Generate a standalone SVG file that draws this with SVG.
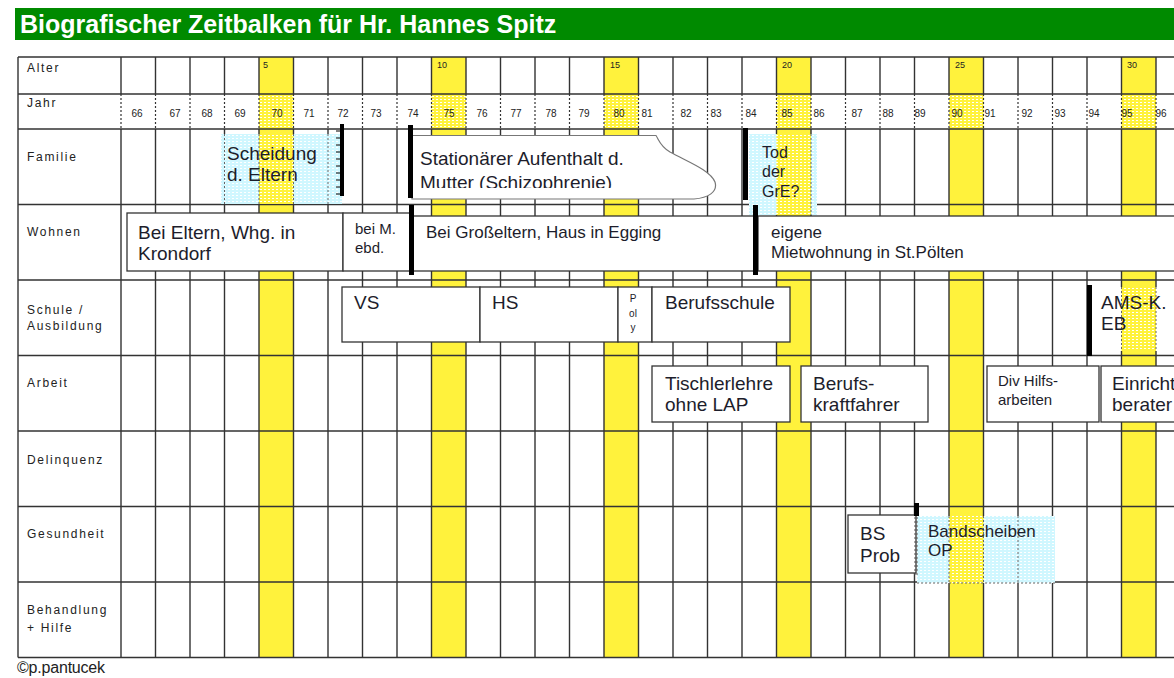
<svg xmlns="http://www.w3.org/2000/svg" width="1174" height="678" viewBox="0 0 1174 678">
<style>
.lbl{font-family:"Liberation Sans",Arial,sans-serif;font-size:12px;letter-spacing:1.7px;fill:#222}
.yr{font-family:"Liberation Sans",Arial,sans-serif;font-size:10px;fill:#222;text-anchor:middle}
.age{font-family:"Liberation Sans",Arial,sans-serif;font-size:9px;fill:#222}
.t19{font-family:"Liberation Sans",Arial,sans-serif;font-size:19px;fill:#1d1d2b}
.t17{font-family:"Liberation Sans",Arial,sans-serif;font-size:17px;fill:#1d1d2b}
.t16{font-family:"Liberation Sans",Arial,sans-serif;font-size:16px;fill:#1d1d2b}
.t15{font-family:"Liberation Sans",Arial,sans-serif;font-size:15px;fill:#1d1d2b}
.t10{font-family:"Liberation Sans",Arial,sans-serif;font-size:10px;fill:#1d1d2b;text-anchor:middle}
.box{fill:#fff;stroke:#333;stroke-width:1.3}
.grid{stroke:#333;stroke-width:1.4;fill:none}
.dot{stroke:#333;stroke-width:1.2;stroke-dasharray:2 2;fill:none}
.dotl{stroke:#666;stroke-width:1;stroke-dasharray:2 2;fill:none}
.bar{fill:#000}
.yel{fill:#fff23c}
</style>
<defs>
<pattern id="hc" patternUnits="userSpaceOnUse" width="4" height="3"><rect width="4" height="3" fill="#d0f7ff"/><rect width="2" height="1" fill="#fff"/></pattern>
<pattern id="hy" patternUnits="userSpaceOnUse" width="4" height="3"><rect width="4" height="3" fill="#fff23c"/><rect width="2" height="1" fill="#fff"/></pattern>
<clipPath id="clipStat"><rect x="412" y="136" width="310" height="52"/></clipPath>
</defs>
<rect width="1174" height="678" fill="#fff"/>

<g id="title">
<rect x="15" y="8" width="1159" height="32" fill="#008a00"/>
<text x="20" y="33" font-family="Liberation Sans,Arial,sans-serif" font-size="25" font-weight="bold" fill="#fff">Biografischer Zeitbalken für Hr. Hannes Spitz</text>
</g>

<g id="yellow-columns">
<rect class="yel" x="259" y="57" width="34.5" height="37"/><rect x="259" y="94" width="34.5" height="35" fill="url(#hy)"/><rect class="yel" x="259" y="129" width="34.5" height="528.5"/>
<rect class="yel" x="431.5" y="57" width="34.5" height="37"/><rect x="431.5" y="94" width="34.5" height="35" fill="url(#hy)"/><rect class="yel" x="431.5" y="129" width="34.5" height="528.5"/>
<rect class="yel" x="604" y="57" width="34.5" height="37"/><rect x="604" y="94" width="34.5" height="35" fill="url(#hy)"/><rect class="yel" x="604" y="129" width="34.5" height="528.5"/>
<rect class="yel" x="776.5" y="57" width="34.5" height="37"/><rect x="776.5" y="94" width="34.5" height="35" fill="url(#hy)"/><rect class="yel" x="776.5" y="129" width="34.5" height="528.5"/>
<rect class="yel" x="949" y="57" width="34.5" height="37"/><rect x="949" y="94" width="34.5" height="35" fill="url(#hy)"/><rect class="yel" x="949" y="129" width="34.5" height="528.5"/>
<rect class="yel" x="1121.5" y="57" width="34.5" height="37"/><rect x="1121.5" y="94" width="34.5" height="35" fill="url(#hy)"/><rect class="yel" x="1121.5" y="129" width="34.5" height="528.5"/>
</g>

<g id="grid">
<path class="grid" d="M18,57V657.5M121,57V94M121,129V657.5M155.5,57V94M155.5,129V657.5M190,57V94M190,129V657.5M224.5,57V94M224.5,129V657.5M259,57V94M259,129V657.5M293.5,57V94M293.5,129V657.5M328,57V94M328,129V657.5M362.5,57V94M362.5,129V657.5M397,57V94M397,129V657.5M431.5,57V94M431.5,129V657.5M466,57V94M466,129V657.5M500.5,57V94M500.5,129V657.5M535,57V94M535,129V657.5M569.5,57V94M569.5,129V657.5M604,57V94M604,129V657.5M638.5,57V94M638.5,129V657.5M673,57V94M673,129V657.5M707.5,57V94M707.5,129V657.5M742,57V94M742,129V657.5M776.5,57V94M776.5,129V657.5M811,57V94M811,129V657.5M845.5,57V94M845.5,129V657.5M880,57V94M880,129V657.5M914.5,57V94M914.5,129V657.5M949,57V94M949,129V657.5M983.5,57V94M983.5,129V657.5M1018,57V94M1018,129V657.5M1052.5,57V94M1052.5,129V657.5M1087,57V94M1087,129V657.5M1121.5,57V94M1121.5,129V657.5M1156,57V94M1156,129V657.5"/>
<path class="dot" d="M121,94V129M155.5,94V129M190,94V129M224.5,94V129M259,94V129M293.5,94V129M328,94V129M362.5,94V129M397,94V129M431.5,94V129M466,94V129M500.5,94V129M535,94V129M569.5,94V129M604,94V129M638.5,94V129M673,94V129M707.5,94V129M742,94V129M776.5,94V129M811,94V129M845.5,94V129M880,94V129M914.5,94V129M949,94V129M983.5,94V129M1018,94V129M1052.5,94V129M1087,94V129M1121.5,94V129M1156,94V129"/>
<path class="grid" d="M18,94H1174M18,129H1174M18,204.5H1174M18,280H1174M18,355.5H1174M18,431H1174M18,506.5H1174M18,582H1174"/>
<path class="grid" stroke-width="2" d="M18,57H1174M18,657.5H1174"/>
</g>

<g id="row-labels">
<text class="lbl" x="27" y="72">Alter</text>
<text class="lbl" x="27" y="107">Jahr</text>
<text class="lbl" x="27" y="161">Familie</text>
<text class="lbl" x="27" y="236">Wohnen</text>
<text class="lbl" x="27" y="314">Schule /</text>
<text class="lbl" x="27" y="330">Ausbildung</text>
<text class="lbl" x="27" y="387">Arbeit</text>
<text class="lbl" x="27" y="464">Delinquenz</text>
<text class="lbl" x="27" y="538">Gesundheit</text>
<text class="lbl" x="27" y="614">Behandlung</text>
<text class="lbl" x="27" y="632">+ Hilfe</text>
</g>

<g id="ages">
<text class="age" x="263" y="68">5</text>
<text class="age" x="437" y="68">10</text>
<text class="age" x="610" y="68">15</text>
<text class="age" x="782" y="68">20</text>
<text class="age" x="955" y="68">25</text>
<text class="age" x="1127" y="68">30</text>
</g>

<g id="years">
<text class="yr" x="137" y="117">66</text><text class="yr" x="175" y="117">67</text><text class="yr" x="207" y="117">68</text><text class="yr" x="240" y="117">69</text><text class="yr" x="277" y="117">70</text><text class="yr" x="309" y="117">71</text><text class="yr" x="343" y="117">72</text><text class="yr" x="376" y="117">73</text><text class="yr" x="413" y="117">74</text><text class="yr" x="449" y="117">75</text><text class="yr" x="482" y="117">76</text><text class="yr" x="516" y="117">77</text><text class="yr" x="551" y="117">78</text><text class="yr" x="584" y="117">79</text><text class="yr" x="619" y="117">80</text><text class="yr" x="647" y="117">81</text><text class="yr" x="686" y="117">82</text><text class="yr" x="716" y="117">83</text><text class="yr" x="751" y="117">84</text><text class="yr" x="787" y="117">85</text><text class="yr" x="819" y="117">86</text><text class="yr" x="857" y="117">87</text><text class="yr" x="888" y="117">88</text><text class="yr" x="920" y="117">89</text><text class="yr" x="957" y="117">90</text><text class="yr" x="990" y="117">91</text><text class="yr" x="1027" y="117">92</text><text class="yr" x="1060" y="117">93</text><text class="yr" x="1094" y="117">94</text><text class="yr" x="1127" y="117">95</text><text class="yr" x="1161" y="117">96</text>
</g>

<g id="familie-scheidung">
<rect x="221" y="134" width="121" height="70" fill="url(#hc)"/>
<rect x="259" y="134" width="34.5" height="70" fill="url(#hy)"/>
<path class="dotl" d="M224.5,134V204M259,134V204M293.5,134V204M328,134V204"/>
<text class="t19" x="227" y="160">Scheidung</text>
<text class="t19" x="227" y="181">d. Eltern</text>
<rect class="bar" x="340" y="124" width="4" height="72"/>
<path stroke="#000" stroke-width="1" d="M336,131H340M336,138H340M336,145H340M336,152H340M336,159H340M336,166H340M336,173H340M336,180H340M336,187H340M336,194H340"/>
</g>

<g id="familie-stationaer">
<path fill="#fff" stroke="#777" stroke-width="1.2" d="M412,135.5H656C659,140 660,146 670,152C688,162 710,170 715,182C718,192 708,198 694,199H412Z"/>
<text class="t19" x="420" y="165">Stationärer Aufenthalt d.</text>
<text class="t19" x="420" y="189" clip-path="url(#clipStat)">Mutter (Schizophrenie)</text>
<rect class="bar" x="408" y="125" width="5" height="73"/>
</g>

<g id="familie-tod">
<rect x="749" y="134" width="68" height="81" fill="url(#hc)"/>
<rect x="776.5" y="134" width="34.5" height="81" fill="url(#hy)"/>
<path class="dotl" d="M811,134V215"/>
<text class="t16" x="762" y="158">Tod</text>
<text class="t16" x="762" y="177">der</text>
<text class="t16" x="762" y="197">GrE?</text>
<rect class="bar" x="743" y="128" width="5" height="72"/>
</g>

<g id="wohnen-eltern">
<rect class="box" x="127" y="213" width="216" height="58"/>
<text class="t19" x="138" y="239">Bei Eltern, Whg. in</text>
<text class="t19" x="138" y="260">Krondorf</text>
</g>
<g id="wohnen-mutter">
<rect class="box" x="343" y="213" width="70" height="58"/>
<text class="t15" x="355" y="234">bei M.</text>
<text class="t15" x="355" y="253">ebd.</text>
</g>
<g id="wohnen-grosseltern">
<rect class="box" x="413" y="216" width="341" height="55"/>
<text class="t17" x="426" y="238">Bei Großeltern, Haus in Egging</text>
<rect class="bar" x="409" y="205" width="5" height="70"/>
</g>
<g id="wohnen-eigene">
<rect class="box" x="758" y="216" width="430" height="55"/>
<text class="t17" x="771" y="238">eigene</text>
<text class="t17" x="771" y="258">Mietwohnung in St.Pölten</text>
<rect class="bar" x="753" y="205" width="5" height="70"/>
</g>

<g id="schule-vs">
<rect class="box" x="342" y="287" width="138" height="55"/>
<text class="t19" x="354" y="309">VS</text>
</g>
<g id="schule-hs">
<rect class="box" x="480" y="287" width="138" height="55"/>
<text class="t19" x="492" y="309">HS</text>
</g>
<g id="schule-poly">
<rect class="box" x="618" y="287" width="34" height="55"/>
<text class="t10" x="633" y="301.5">P</text>
<text class="t10" x="633" y="316.5">ol</text>
<text class="t10" x="633" y="330.5">y</text>
</g>
<g id="schule-berufsschule">
<rect class="box" x="652" y="287" width="138" height="55"/>
<text class="t19" x="665" y="309">Berufsschule</text>
</g>
<g id="schule-ams">
<rect x="1093" y="287" width="90" height="64" fill="#fff"/>
<rect x="1121.5" y="287" width="34.5" height="64" fill="url(#hy)"/>
<path class="dotl" d="M1121.5,287V351M1156,287V351"/>
<text class="t19" x="1101" y="309">AMS-K.</text>
<text class="t19" x="1101" y="330">EB</text>
<rect class="bar" x="1087" y="285" width="5" height="71"/>
</g>

<g id="arbeit-tischler">
<rect class="box" x="652" y="366" width="138" height="56"/>
<text class="t19" x="665" y="390">Tischlerlehre</text>
<text class="t19" x="665" y="411">ohne LAP</text>
</g>
<g id="arbeit-kraftfahrer">
<rect class="box" x="801" y="366" width="127" height="56"/>
<text class="t19" x="813" y="390">Berufs-</text>
<text class="t19" x="813" y="411">kraftfahrer</text>
</g>
<g id="arbeit-hilfs">
<rect class="box" x="987" y="366" width="112" height="56"/>
<text class="t15" x="998" y="386">Div Hilfs-</text>
<text class="t15" x="998" y="405">arbeiten</text>
</g>
<g id="arbeit-einricht">
<rect class="box" x="1101" y="366" width="90" height="56"/>
<text class="t19" x="1112" y="390">Einricht</text>
<text class="t19" x="1112" y="411">berater</text>
</g>

<g id="gesundheit-bs">
<rect class="box" x="848" y="515" width="68" height="58"/>
<text class="t19" x="860" y="540">BS</text>
<text class="t19" x="860" y="562">Prob</text>
</g>
<g id="gesundheit-op">
<rect x="917" y="516" width="138" height="67" fill="url(#hc)"/>
<rect x="949" y="516" width="34.5" height="67" fill="url(#hy)"/>
<path class="dotl" d="M949,516V583M983.5,516V583M1018,516V583M917,583H1055"/>
<path stroke="#555" stroke-width="1" d="M914,518H918M914,522H918M914,526H918M914,530H918M914,534H918M914,538H918M914,542H918M914,546H918M914,550H918M914,554H918M914,558H918M914,562H918M914,566H918M914,570H918M914,574H918"/>
<text class="t17" x="928" y="537">Bandscheiben</text>
<text class="t17" x="928" y="556">OP</text>
<rect class="bar" x="914" y="503" width="5" height="13"/>
</g>

<text x="17" y="673" font-family="Liberation Sans,Arial,sans-serif" font-size="16" letter-spacing="-0.2" fill="#222">©p.pantucek</text>
</svg>
